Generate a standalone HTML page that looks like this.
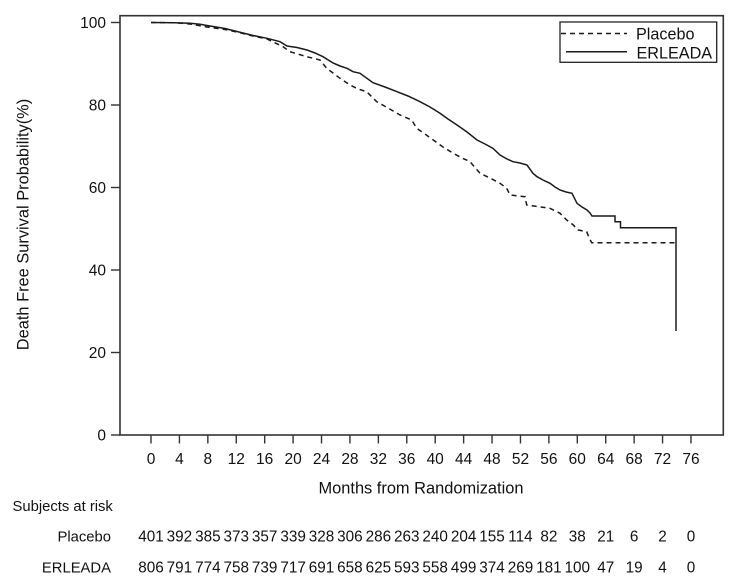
<!DOCTYPE html>
<html>
<head>
<meta charset="utf-8">
<style>
  html,body{margin:0;padding:0;background:#fff;}
  svg{display:block;}
  text{font-family:"Liberation Sans", Arial, sans-serif;fill:#111;}
</style>
</head>
<body>
<svg width="733" height="582" viewBox="0 0 733 582" xmlns="http://www.w3.org/2000/svg">
  <!-- frame -->
  <rect x="120" y="15.7" width="603.3" height="419.3" fill="none" stroke="#333" stroke-width="1.6"/>

  <!-- y ticks -->
  <g stroke="#333" stroke-width="1.4">
    <line x1="111" y1="435" x2="120" y2="435"/>
    <line x1="111" y1="352.5" x2="120" y2="352.5"/>
    <line x1="111" y1="270" x2="120" y2="270"/>
    <line x1="111" y1="187.5" x2="120" y2="187.5"/>
    <line x1="111" y1="105" x2="120" y2="105"/>
    <line x1="111" y1="22.5" x2="120" y2="22.5"/>
  </g>
  <g font-size="15.5" text-anchor="end">
    <text x="106" y="440.5">0</text>
    <text x="106" y="358">20</text>
    <text x="106" y="275.5">40</text>
    <text x="106" y="193">60</text>
    <text x="106" y="110.5">80</text>
    <text x="106" y="28">100</text>
  </g>

  <!-- x ticks -->
  <g stroke="#333" stroke-width="1.4">
    <line x1="151" y1="435" x2="151" y2="443.5"/>
    <line x1="179.42" y1="435" x2="179.42" y2="443.5"/>
    <line x1="207.84" y1="435" x2="207.84" y2="443.5"/>
    <line x1="236.26" y1="435" x2="236.26" y2="443.5"/>
    <line x1="264.68" y1="435" x2="264.68" y2="443.5"/>
    <line x1="293.1" y1="435" x2="293.1" y2="443.5"/>
    <line x1="321.52" y1="435" x2="321.52" y2="443.5"/>
    <line x1="349.94" y1="435" x2="349.94" y2="443.5"/>
    <line x1="378.36" y1="435" x2="378.36" y2="443.5"/>
    <line x1="406.78" y1="435" x2="406.78" y2="443.5"/>
    <line x1="435.2" y1="435" x2="435.2" y2="443.5"/>
    <line x1="463.62" y1="435" x2="463.62" y2="443.5"/>
    <line x1="492.04" y1="435" x2="492.04" y2="443.5"/>
    <line x1="520.46" y1="435" x2="520.46" y2="443.5"/>
    <line x1="548.88" y1="435" x2="548.88" y2="443.5"/>
    <line x1="577.3" y1="435" x2="577.3" y2="443.5"/>
    <line x1="605.72" y1="435" x2="605.72" y2="443.5"/>
    <line x1="634.14" y1="435" x2="634.14" y2="443.5"/>
    <line x1="662.56" y1="435" x2="662.56" y2="443.5"/>
    <line x1="690.98" y1="435" x2="690.98" y2="443.5"/>
  </g>
  <g font-size="15.5" text-anchor="middle">
    <text x="151" y="464">0</text>
    <text x="179.42" y="464">4</text>
    <text x="207.84" y="464">8</text>
    <text x="236.26" y="464">12</text>
    <text x="264.68" y="464">16</text>
    <text x="293.1" y="464">20</text>
    <text x="321.52" y="464">24</text>
    <text x="349.94" y="464">28</text>
    <text x="378.36" y="464">32</text>
    <text x="406.78" y="464">36</text>
    <text x="435.2" y="464">40</text>
    <text x="463.62" y="464">44</text>
    <text x="492.04" y="464">48</text>
    <text x="520.46" y="464">52</text>
    <text x="548.88" y="464">56</text>
    <text x="577.3" y="464">60</text>
    <text x="605.72" y="464">64</text>
    <text x="634.14" y="464">68</text>
    <text x="662.56" y="464">72</text>
    <text x="690.98" y="464">76</text>
  </g>

  <!-- axis titles -->
  <text x="421" y="493.6" font-size="16.4" text-anchor="middle">Months from Randomization</text>
  <text transform="translate(28.5,224.5) rotate(-90)" font-size="16.4" text-anchor="middle">Death Free Survival Probability(%)</text>

  <!-- curves -->
  <polyline fill="none" stroke="#1a1a1a" stroke-width="1.5" stroke-dasharray="5 4"
    points="151,22.5 175,22.8 190,24 207,27 225,29.5 237,32 253,36 267,39 283,46.7 290,51.7 306.7,56.7 320,60 326.7,68.3 333,73 340,78.3 350,85 358,89 366.7,91.7 376.7,101.7 388,108 400,115 411.7,120 416.7,128.3 425,134 433.3,140 443,147 453.3,153.3 462,158 470,161.7 480,173.3 490,178 500,183.3 506.7,188.3 510,195 525,196.7 526.7,205 550,208.3 560,213.3 566.7,220 573.3,225 578.3,230 586.7,231.7 589.3,238.3 591.7,242.7 676,242.7"/>
  <polyline fill="none" stroke="#1a1a1a" stroke-width="1.5"
    points="151,22.5 175,22.7 190,23.3 200,24.3 210,26 225,28.5 237,31.5 253,35.5 267,38.3 280,41.7 287,46 297,47.5 307,50 315,53 323,56.7 333,63 340,66 347,68.3 353,71.7 360,73.3 373,82.7 385,87 397,91.7 408,96 420,101.7 430,107 440,113.3 448,119 457,125 467,132 477,140 485,144 493,148.3 500,155 507,159 513,161.7 520,163 527,165 533,173.3 537,176.7 543,180 550,183.3 555,187 560,190 566,192 572,193.3 577,203.3 582,207 587,210 590,213 592,216 615,216 615,221.7 620.5,221.7 620.5,227.7 676,227.7 676,331"/>

  <!-- legend -->
  <rect x="560" y="22" width="156.7" height="40.3" fill="#fff" stroke="#222" stroke-width="1.3"/>
  <line x1="561" y1="33.5" x2="627" y2="33.5" stroke="#1a1a1a" stroke-width="1.5" stroke-dasharray="5 4"/>
  <line x1="566" y1="51.7" x2="627" y2="51.7" stroke="#1a1a1a" stroke-width="1.5"/>
  <text x="636" y="39.5" font-size="16.2">Placebo</text>
  <text x="636.5" y="58.3" font-size="16.2">ERLEADA</text>

  <!-- risk table -->
  <text x="12.5" y="511" font-size="14.8">Subjects at risk</text>
  <text x="111" y="541.5" font-size="14.8" text-anchor="end">Placebo</text>
  <text x="111" y="572.3" font-size="14.8" text-anchor="end">ERLEADA</text>
  <g font-size="15.3" text-anchor="middle">
    <text x="151" y="541.5">401</text>
    <text x="179.42" y="541.5">392</text>
    <text x="207.84" y="541.5">385</text>
    <text x="236.26" y="541.5">373</text>
    <text x="264.68" y="541.5">357</text>
    <text x="293.1" y="541.5">339</text>
    <text x="321.52" y="541.5">328</text>
    <text x="349.94" y="541.5">306</text>
    <text x="378.36" y="541.5">286</text>
    <text x="406.78" y="541.5">263</text>
    <text x="435.2" y="541.5">240</text>
    <text x="463.62" y="541.5">204</text>
    <text x="492.04" y="541.5">155</text>
    <text x="520.46" y="541.5">114</text>
    <text x="548.88" y="541.5">82</text>
    <text x="577.3" y="541.5">38</text>
    <text x="605.72" y="541.5">21</text>
    <text x="634.14" y="541.5">6</text>
    <text x="662.56" y="541.5">2</text>
    <text x="690.98" y="541.5">0</text>

    <text x="151" y="572.3">806</text>
    <text x="179.42" y="572.3">791</text>
    <text x="207.84" y="572.3">774</text>
    <text x="236.26" y="572.3">758</text>
    <text x="264.68" y="572.3">739</text>
    <text x="293.1" y="572.3">717</text>
    <text x="321.52" y="572.3">691</text>
    <text x="349.94" y="572.3">658</text>
    <text x="378.36" y="572.3">625</text>
    <text x="406.78" y="572.3">593</text>
    <text x="435.2" y="572.3">558</text>
    <text x="463.62" y="572.3">499</text>
    <text x="492.04" y="572.3">374</text>
    <text x="520.46" y="572.3">269</text>
    <text x="548.88" y="572.3">181</text>
    <text x="577.3" y="572.3">100</text>
    <text x="605.72" y="572.3">47</text>
    <text x="634.14" y="572.3">19</text>
    <text x="662.56" y="572.3">4</text>
    <text x="690.98" y="572.3">0</text>
  </g>
</svg>
</body>
</html>
